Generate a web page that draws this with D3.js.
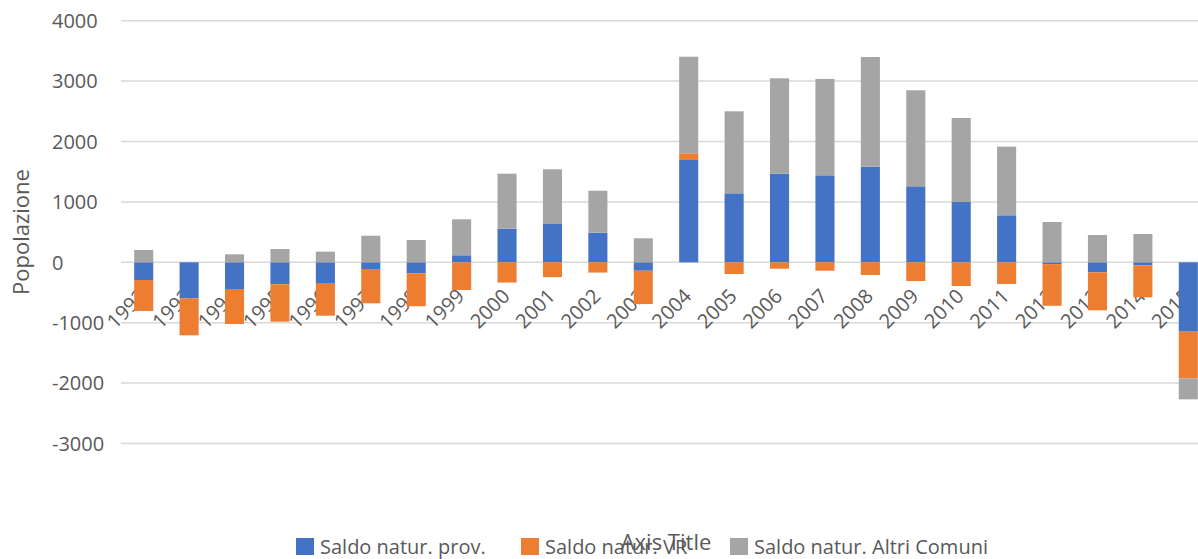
<!DOCTYPE html>
<html>
<head>
<meta charset="utf-8">
<script src="https://cdn.jsdelivr.net/npm/d3@7"></script>
<style>
  body { margin: 0; background: #fff; }
  svg { display: block; font-family: "Open Sans", sans-serif; }
  .grid line { stroke: #d9d9d9; stroke-width: 1.5; }
  .tick-label { fill: #595959; font-size: 20px; }
  .axis-title { fill: #595959; font-size: 22px; }
  .legend text { fill: #595959; font-size: 20px; }
</style>
</head>
<body>
<div id="chart"></div>
<script>
// data
const years = ["1992","1993","1994","1995","1996","1997","1998","1999","2000","2001","2002","2003",
               "2004","2005","2006","2007","2008","2009","2010","2011","2012","2013","2014","2015"];
const saldoProv  = [-293,-596,-442,-364,-343,-111,-182, 116, 556, 634, 490,-140,
                    1694,1142,1467,1440,1583,1258, 998, 778, -30,-166, -50,-1149];
const saldoVR    = [-513,-613,-580,-619,-541,-568,-546,-459,-335,-246,-170,-551,
                     111,-194,-106,-139,-210,-310,-392,-359,-690,-629,-530,-772];
const saldoAltri = [ 204,   0, 132, 220, 177, 440, 369, 596, 911, 906, 695, 397,
                    1599,1358,1579,1595,1816,1590,1391,1136, 667, 452, 469,-348];
const seriesNames = ["Saldo natur. prov.", "Saldo natur. VR", "Saldo natur. Altri Comuni"];
const yTicks = [4000, 3000, 2000, 1000, 0, -1000, -2000, -3000];

const colors = ["#4472C4", "#ED7D31", "#A5A5A5"];
const W = 1198, H = 559;

const rows = years.map((y, i) => ({ year: y, s0: saldoProv[i], s1: saldoVR[i], s2: saldoAltri[i] }));

const svg = d3.select("#chart").append("svg")
    .attr("width", W)
    .attr("height", H);

// plot area runs past the right edge, like the cropped original
const x = d3.scaleBand()
    .domain(years)
    .range([121, 1211])
    .paddingInner(0.58)
    .paddingOuter(0.29);

const y = d3.scaleLinear()
    .domain([-3000, 4000])
    .range([443.5, 20.7]);

// gridlines
svg.append("g").attr("class", "grid")
    .selectAll("line")
    .data(yTicks)
    .join("line")
    .attr("x1", 121)
    .attr("x2", W)
    .attr("y1", d => y(d))
    .attr("y2", d => y(d));

// y tick labels (left aligned in the original)
svg.append("g")
    .selectAll("text")
    .data(yTicks)
    .join("text")
    .attr("class", "tick-label")
    .attr("x", 52)
    .attr("y", d => y(d))
    .attr("dy", "0.36em")
    .text(d => d);

// x labels, rotated, drawn before the bars so the bars cover them
svg.append("g")
    .selectAll("text")
    .data(years)
    .join("text")
    .attr("class", "tick-label")
    .attr("text-anchor", "end")
    .attr("transform", d => `translate(${x(d) + x.bandwidth() / 2 + 4},${y(0) + 35}) rotate(-45)`)
    .text(d => d);

// stacked bars, negatives stacking downward
const stack = d3.stack()
    .keys(["s0", "s1", "s2"])
    .offset(d3.stackOffsetDiverging);
const layers = stack(rows);

svg.append("g")
    .selectAll("g")
    .data(layers)
    .join("g")
    .attr("fill", (d, i) => colors[i])
    .selectAll("rect")
    .data(d => d)
    .join("rect")
    .attr("x", d => x(d.data.year))
    .attr("width", x.bandwidth())
    .attr("y", d => y(Math.max(d[0], d[1])))
    .attr("height", d => Math.abs(y(d[0]) - y(d[1])));

// axis titles
svg.append("text")
    .attr("class", "axis-title")
    .attr("transform", "translate(29,232) rotate(-90)")
    .attr("text-anchor", "middle")
    .text("Popolazione");

svg.append("text")
    .attr("class", "axis-title")
    .attr("x", 666)
    .attr("y", 550)
    .attr("text-anchor", "middle")
    .text("Axis Title");

// legend
const legendX = [296, 521, 730];
const legend = svg.append("g").attr("class", "legend")
    .selectAll("g")
    .data(seriesNames)
    .join("g")
    .attr("transform", (d, i) => `translate(${legendX[i]},538)`);
legend.append("rect")
    .attr("width", 18)
    .attr("height", 17)
    .attr("fill", (d, i) => colors[i]);
legend.append("text")
    .attr("x", 24)
    .attr("y", 16)
    .text(d => d);
</script>
</body>
</html>
